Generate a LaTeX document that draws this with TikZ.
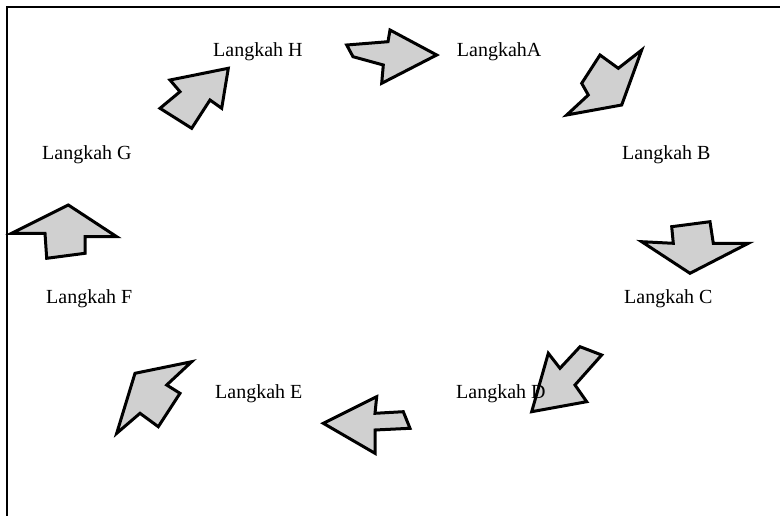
\documentclass[tikz,border=0pt]{standalone}
\usepackage{fontspec}
\setmainfont{Liberation Serif}
\begin{document}
\begin{tikzpicture}[x=1pt,y=-1pt,
  blk/.style={draw=black,line width=3pt,line join=miter,fill={rgb,255:red,208;green,208;blue,208}},
  lbl/.style={anchor=base west,inner sep=0pt,font=\fontsize{20}{24}\selectfont}]
\useasboundingbox (0,0) rectangle (780,516);
\fill[white] (0,0) rectangle (780,516);
\coordinate (fl) at (7,516);
\coordinate (fc) at (7,7);
\coordinate (fr) at (780,7);
\draw[line width=2.2pt] (fl) -- (fc) -- (fr);
% arrows
\draw[blk] (346.7,45) -- (388,41.7) -- (390,30) -- (436.7,55) -- (381.7,83.3) -- (383.3,65) -- (353,56.7) -- cycle;
\draw[blk] (641.7,50) -- (621.7,105) -- (566.7,115) -- (588.3,95) -- (581.7,83.3) -- (600,55) -- (618.3,68.3) -- cycle;
\draw[blk] (671.7,226.7) -- (710,221.7) -- (713.3,243.3) -- (748.3,243.3) -- (690,273.3) -- (641.7,241.7) -- (673.3,243.3) -- cycle;
\draw[blk] (580,346.7) -- (601.7,355) -- (575,385) -- (586.7,401.7) -- (531.7,411.7) -- (548.3,353.3) -- (560,368.3) -- cycle;
\draw[blk] (323.3,423.3) -- (376.7,396.7) -- (375,413.3) -- (403.3,411.7) -- (410,428.3) -- (375,430) -- (375,453.3) -- cycle;
\draw[blk] (135,373.3) -- (191.7,361.7) -- (166.7,385) -- (180,393.3) -- (158.3,426.7) -- (140,413.3) -- (116.7,433.3) -- cycle;
\draw[blk] (68.3,205) -- (116.7,236.7) -- (85,236.7) -- (85,253.3) -- (46.7,258.3) -- (45,233.3) -- (11.7,233.3) -- cycle;
\draw[blk] (228.3,68.3) -- (221.7,108.3) -- (210,100) -- (191.7,128.3) -- (160,108.3) -- (180,91.7) -- (170,80) -- cycle;
% labels
\node[lbl] (h) at (213,57) {Langkah H};
\node[lbl] (a) at (456.7,57) {LangkahA};
\node[lbl] (g) at (42,160) {Langkah G};
\node[lbl] (b) at (622,160) {Langkah B};
\node[lbl] (f) at (46,303) {Langkah F};
\node[lbl] (c) at (624,303) {Langkah C};
\node[lbl] (e) at (215,398) {Langkah E};
\node[lbl] (d) at (456,398) {Langkah D};
\end{tikzpicture}
\end{document}
